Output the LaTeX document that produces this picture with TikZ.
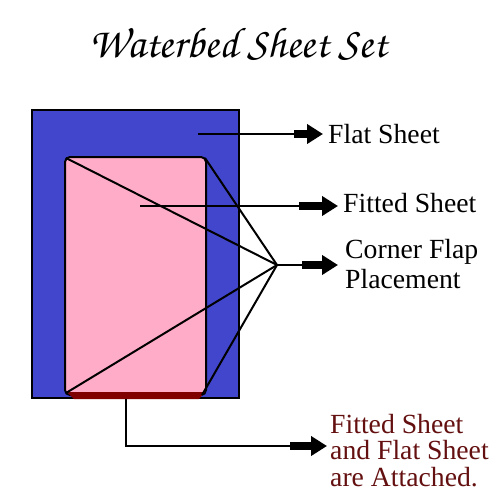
\documentclass[tikz,border=0pt]{standalone}
\usepackage{fontspec}
\setmainfont{Liberation Serif}
\newfontfamily\titlefont{TeX Gyre Chorus}
\usetikzlibrary{arrows.meta}
\definecolor{bedblue}{RGB}{66,70,204}
\definecolor{sheetpink}{RGB}{255,172,200}
\definecolor{seamred}{RGB}{128,0,0}
\definecolor{notered}{RGB}{100,16,16}
\begin{document}
\begin{tikzpicture}[x=1pt,y=-1pt,
  thin line/.style={line width=2pt},
  blockarrow/.style={line width=8pt,-{Triangle[length=16pt,width=19pt]}},
  label/.style={font=\fontsize{27.7pt}{30pt}\selectfont, inner sep=0pt, anchor=base west, align=left}]
\useasboundingbox (0,0) rectangle (500,500);
\fill[white] (0,0) rectangle (500,500);
% title
\node[font=\titlefont\fontsize{43pt}{46pt}\selectfont, inner sep=0pt] (title) at (238,44) {Waterbed Sheet Set};
% flat sheet (blue)
\draw[fill=bedblue, line width=2pt] (32,110) rectangle (239,398);
% fitted sheet (pink)
\draw[fill=sheetpink, line width=2pt, rounded corners=5pt] (65,157) rectangle (206,395);
\fill[seamred] (67,392) -- (205,392) -- (199,399) -- (74,399) -- cycle;
% corners
\coordinate (tl) at (66,158);
\coordinate (tr) at (205,158);
\coordinate (bl) at (66,393);
\coordinate (br) at (202,395);
\coordinate (conv) at (277,265);
\foreach \c in {tl,tr,bl,br} \draw[thin line] (\c) -- (conv);
% labels
\node[label] (flat) at (328,143) {Flat Sheet};
\node[label] (fitted) at (343,212) {Fitted Sheet};
\node[label] (corner) at (345,288) {Corner Flap\\Placement};
\node[label, font=\fontsize{27.7pt}{26.5pt}\selectfont, text=notered] (attached) at (330,486) {Fitted Sheet\\and Flat Sheet\\are Attached.};
% flat sheet arrow
\coordinate (fs0) at (198,134);
\coordinate (fs1) at (294,134);
\coordinate (fs2) at (323,134);
\draw[thin line] (fs0) -- (fs1);
\draw[blockarrow] (fs1) -- (fs2);
% fitted sheet arrow
\coordinate (ft0) at (140,206);
\coordinate (ft1) at (299,206);
\coordinate (ft2) at (338,206);
\draw[thin line] (ft0) -- (ft1);
\draw[blockarrow] (ft1) -- (ft2);
% corner arrow
\coordinate (cf1) at (302,265);
\coordinate (cf2) at (338,265);
\draw[thin line] (conv) -- (cf1);
\draw[blockarrow] (cf1) -- (cf2);
% attached arrow
\coordinate (at0) at (126,399);
\coordinate (atk) at (126,446);
\coordinate (at1) at (290,446);
\coordinate (at2) at (327,446);
\draw[thin line] (at0) -- (atk) -- (at1);
\draw[blockarrow] (at1) -- (at2);
\end{tikzpicture}
\end{document}
